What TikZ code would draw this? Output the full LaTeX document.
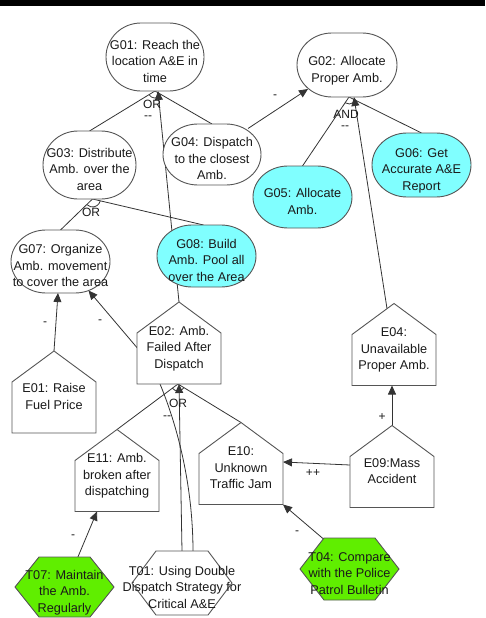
\documentclass[tikz,border=0pt]{standalone}
\usepackage{fontspec}
\setmainfont{Liberation Sans}
\usetikzlibrary{arrows.meta}

\pgfdeclarelayer{edges}
\pgfsetlayers{edges,main}

\makeatletter
% rectangle with elliptical ends (goals)
\pgfdeclareshape{goalshape}{%
  \inheritsavedanchors[from=rectangle]%
  \inheritanchorborder[from=rectangle]%
  \inheritanchor[from=rectangle]{center}%
  \inheritanchor[from=rectangle]{north}%
  \inheritanchor[from=rectangle]{south}%
  \inheritanchor[from=rectangle]{east}%
  \inheritanchor[from=rectangle]{west}%
  \inheritanchor[from=rectangle]{north east}%
  \inheritanchor[from=rectangle]{north west}%
  \inheritanchor[from=rectangle]{south east}%
  \inheritanchor[from=rectangle]{south west}%
  \backgroundpath{%
    \southwest\edef\gs@xa{\the\pgf@x}\edef\gs@ya{\the\pgf@y}%
    \northeast\edef\gs@xb{\the\pgf@x}\edef\gs@yb{\the\pgf@y}%
    \pgfmathsetmacro\gs@ym{(\gs@ya+\gs@yb)/2}%
    \pgfmathsetmacro\gs@ky{0.5523*(\gs@yb-\gs@ya)/2}%
    \pgfpathmoveto{\pgfpoint{\gs@xa+35pt}{\gs@yb}}%
    \pgfpathlineto{\pgfpoint{\gs@xb-35pt}{\gs@yb}}%
    \pgfpathcurveto{\pgfpoint{\gs@xb-15.67pt}{\gs@yb}}{\pgfpoint{\gs@xb}{\gs@ym+\gs@ky}}{\pgfpoint{\gs@xb}{\gs@ym}}%
    \pgfpathcurveto{\pgfpoint{\gs@xb}{\gs@ym-\gs@ky}}{\pgfpoint{\gs@xb-15.67pt}{\gs@ya}}{\pgfpoint{\gs@xb-35pt}{\gs@ya}}%
    \pgfpathlineto{\pgfpoint{\gs@xa+35pt}{\gs@ya}}%
    \pgfpathcurveto{\pgfpoint{\gs@xa+15.67pt}{\gs@ya}}{\pgfpoint{\gs@xa}{\gs@ym-\gs@ky}}{\pgfpoint{\gs@xa}{\gs@ym}}%
    \pgfpathcurveto{\pgfpoint{\gs@xa}{\gs@ym+\gs@ky}}{\pgfpoint{\gs@xa+15.67pt}{\gs@yb}}{\pgfpoint{\gs@xa+35pt}{\gs@yb}}%
    \pgfpathclose
  }%
}
% box with a pointed roof (events)
\pgfdeclareshape{houseshape}{%
  \inheritsavedanchors[from=rectangle]%
  \inheritanchorborder[from=rectangle]%
  \inheritanchor[from=rectangle]{center}%
  \inheritanchor[from=rectangle]{north}%
  \inheritanchor[from=rectangle]{south}%
  \inheritanchor[from=rectangle]{east}%
  \inheritanchor[from=rectangle]{west}%
  \inheritanchor[from=rectangle]{north east}%
  \inheritanchor[from=rectangle]{north west}%
  \inheritanchor[from=rectangle]{south east}%
  \inheritanchor[from=rectangle]{south west}%
  \backgroundpath{%
    \southwest\edef\gs@xa{\the\pgf@x}\edef\gs@ya{\the\pgf@y}%
    \northeast\edef\gs@xb{\the\pgf@x}\edef\gs@yb{\the\pgf@y}%
    \pgfpathmoveto{\pgfpoint{\gs@xa}{\gs@ya}}%
    \pgfpathlineto{\pgfpoint{\gs@xb}{\gs@ya}}%
    \pgfpathlineto{\pgfpoint{\gs@xb}{\gs@yb-31pt}}%
    \pgfpathlineto{\pgfpoint{(\gs@xa+\gs@xb)/2}{\gs@yb}}%
    \pgfpathlineto{\pgfpoint{\gs@xa}{\gs@yb-31pt}}%
    \pgfpathclose
  }%
}
% flat hexagon (tasks)
\pgfdeclareshape{hexshape}{%
  \inheritsavedanchors[from=rectangle]%
  \inheritanchorborder[from=rectangle]%
  \inheritanchor[from=rectangle]{center}%
  \inheritanchor[from=rectangle]{north}%
  \inheritanchor[from=rectangle]{south}%
  \inheritanchor[from=rectangle]{east}%
  \inheritanchor[from=rectangle]{west}%
  \inheritanchor[from=rectangle]{north east}%
  \inheritanchor[from=rectangle]{north west}%
  \inheritanchor[from=rectangle]{south east}%
  \inheritanchor[from=rectangle]{south west}%
  \backgroundpath{%
    \southwest\edef\gs@xa{\the\pgf@x}\edef\gs@ya{\the\pgf@y}%
    \northeast\edef\gs@xb{\the\pgf@x}\edef\gs@yb{\the\pgf@y}%
    \pgfpathmoveto{\pgfpoint{\gs@xa}{(\gs@ya+\gs@yb)/2}}%
    \pgfpathlineto{\pgfpoint{\gs@xa+24pt}{\gs@yb}}%
    \pgfpathlineto{\pgfpoint{\gs@xb-24pt}{\gs@yb}}%
    \pgfpathlineto{\pgfpoint{\gs@xb}{(\gs@ya+\gs@yb)/2}}%
    \pgfpathlineto{\pgfpoint{\gs@xb-24pt}{\gs@ya}}%
    \pgfpathlineto{\pgfpoint{\gs@xa+24pt}{\gs@ya}}%
    \pgfpathclose
  }%
}
\makeatother

\definecolor{goalcyan}{HTML}{80FFFF}
\definecolor{taskgreen}{HTML}{60EE00}
\definecolor{edgecol}{HTML}{333333}
\definecolor{framecol}{HTML}{555555}
\definecolor{inkcol}{HTML}{1A1A1A}

% centred lines of text, lowered a little inside their shape
\newcommand\nodetext[1]{\raisebox{-5.5pt}[\height][\depth]{\makebox[0pt]{\begin{tabular}{@{}c@{}}#1\end{tabular}}}}

\begin{document}
\begin{tikzpicture}[x=1pt,y=-1pt,
  base/.style={draw=framecol, line width=0.9pt, fill=white, inner sep=0pt, outer sep=0pt,
    font=\fontsize{12.7}{16.5}\selectfont, text=inkcol},
  goal/.style={base, shape=goalshape},
  event/.style={base, shape=houseshape, minimum width=84pt, minimum height=82pt},
  task/.style={base, shape=hexshape},
  link/.style={draw=edgecol, line width=0.8pt},
  contrib/.style={link, -{Triangle[length=9pt,width=8pt]}},
  tag/.style={font=\fontsize{12}{14}\selectfont, inner sep=0pt, text=inkcol},
]
\useasboundingbox (0,0) rectangle (485,618);
\fill[black] (0,0) rectangle (485,6);

% goals
\node[goal, minimum width=98pt, minimum height=68pt] (G01) at (155,57) {\nodetext{G01: Reach the\\location A\&E in\\time}};
\node[goal, minimum width=100pt, minimum height=64pt] (G02) at (347,65) {\nodetext{G02: Allocate\\Proper Amb.}};
\node[goal, minimum width=93pt, minimum height=68pt] (G03) at (89.5,165) {\nodetext{G03: Distribute\\Amb. over the\\area}};
\node[goal, minimum width=98pt, minimum height=61pt] (G04) at (212,154.5) {\nodetext{G04: Dispatch\\to the closest\\Amb.}};
\node[goal, fill=goalcyan, minimum width=99pt, minimum height=62pt] (G05) at (302.5,197) {\nodetext{G05: Allocate\\Amb.}};
\node[goal, fill=goalcyan, minimum width=99pt, minimum height=64pt] (G06) at (421.5,165) {\nodetext{G06: Get\\Accurate A\&E\\Report}};
\node[goal, minimum width=99pt, minimum height=63pt] (G07) at (60.5,261.5) {\nodetext{G07: Organize\\Amb. movement\\to cover the area}};
\node[goal, fill=goalcyan, minimum width=99pt, minimum height=62pt] (G08) at (206.5,256) {\nodetext{G08: Build\\Amb. Pool all\\over the Area}};

% events
\node[event] (E01) at (54,392) {\nodetext{E01: Raise\\Fuel Price}};
\node[event] (E02) at (179,343) {\nodetext{E02: Amb.\\Failed After\\Dispatch}};
\node[event] (E04) at (394,344.5) {\nodetext{E04:\\Unavailable\\Proper Amb.}};
\node[event] (E09) at (392,466.5) {\nodetext{E09:Mass\\Accident}};
\node[event] (E10) at (241,463.5) {\nodetext{E10:\\Unknown\\Traffic Jam}};
\node[event] (E11) at (117,470.5) {\nodetext{E11: Amb.\\broken after\\dispatching}};

% tasks
\node[task, minimum width=100pt, minimum height=64pt] (T01) at (182,583) {\nodetext{T01: Using Double\\Dispatch Strategy for\\Critical A\&E}};
\node[task, fill=taskgreen, minimum width=99pt, minimum height=62pt] (T04) at (349.5,569) {\nodetext{T04: Compare\\with the Police\\Patrol Bulletin}};
\node[task, fill=taskgreen, minimum width=99pt, minimum height=60pt] (T07) at (64.5,587) {\nodetext{T07: Maintain\\the Amb.\\Regularly}};

\begin{pgfonlayer}{edges}
  % OR decomposition of G01
  \draw[link] (G03.north) -- (G01.south);
  \draw[link] (G04.north) -- (G01.south);
  \draw[link] (G01.south) ++(30:7) arc[start angle=30, end angle=148, radius=7];
  \draw[contrib] (E02.north) -- ([xshift=3pt]G01.south);

  % AND decomposition of G02
  \draw[link] (G05.north) -- ([xshift=2pt]G02.south);
  \draw[link] (G06.north) -- ([xshift=2pt]G02.south);
  \draw[link] ([xshift=2pt]G02.south) ++(26:7) arc[start angle=26, end angle=124, radius=7];
  \draw[contrib] ([shift={(36,-26)}]G04.center) -- ([shift={(-39,24)}]G02.center);
  \draw[contrib] ([shift={(-7,-36)}]E04.center) -- ([xshift=7pt]G02.south);

  % OR decomposition of G03
  \draw[link] (G07.north) -- ([xshift=3pt]G03.south);
  \draw[link] ([xshift=-3pt]G08.north) -- ([xshift=3pt]G03.south);
  \draw[link] ([xshift=3pt]G03.south) ++(13:8) arc[start angle=13, end angle=136, radius=8];

  % contributions to G07
  \draw[contrib] (E01.north) -- ([xshift=-2.5pt]G07.south);
  \draw[contrib] ([shift={(-40,7)}]E02.center) -- ([shift={(28,29)}]G07.center);

  % OR decomposition of E02
  \draw[link] (E11.north) -- ([xshift=-1pt]E02.south);
  \draw[link] (E10.north) -- ([xshift=-1pt]E02.south);
  \draw[link] ([xshift=-1pt]E02.south) ++(31:7) arc[start angle=31, end angle=144, radius=7];
  \draw[contrib] (T01.north) -- (E02.south);
  \draw[link] ([shift={(11,-31)}]T01.center) .. controls (193,480) and (175,420) .. ([shift={(-19,41)}]E02.center);

  % remaining contributions
  \draw[contrib] (E09.north) -- (E09.north |- E04.south);
  \draw[contrib] ([shift={(0,-1.5)}]E09.west) -- ([shift={(0,-1.5)}]E10.east);
  \draw[contrib] ([shift={(-26,-30)}]T04.center) -- (E10.south east);
  \draw[contrib] ([shift={(13,-29)}]T07.center) -- ([xshift=-20pt]E11.south);
\end{pgfonlayer}

% link labels
\node[tag] (orA)  at (152,104) {OR};
\node[tag] (mmA)  at (148,118) {-{}-};
\node[tag] (mG2)  at (275,97) {-};
\node[tag] (andB) at (346,114) {AND};
\node[tag] (mmB)  at (345,128) {-{}-};
\node[tag] (orC)  at (91,212) {OR};
\node[tag] (mE1)  at (45,324) {-};
\node[tag] (mE2)  at (100,322) {-};
\node[tag] (orD)  at (178,403) {OR};
\node[tag] (mmD)  at (167,418) {-{}-};
\node[tag] (pE9)  at (382,417) {+};
\node[tag] (ppE9) at (313,473) {++};
\node[tag] (mT4)  at (297,533) {-};
\node[tag] (mT7)  at (73,537) {-};
\end{tikzpicture}
\end{document}
